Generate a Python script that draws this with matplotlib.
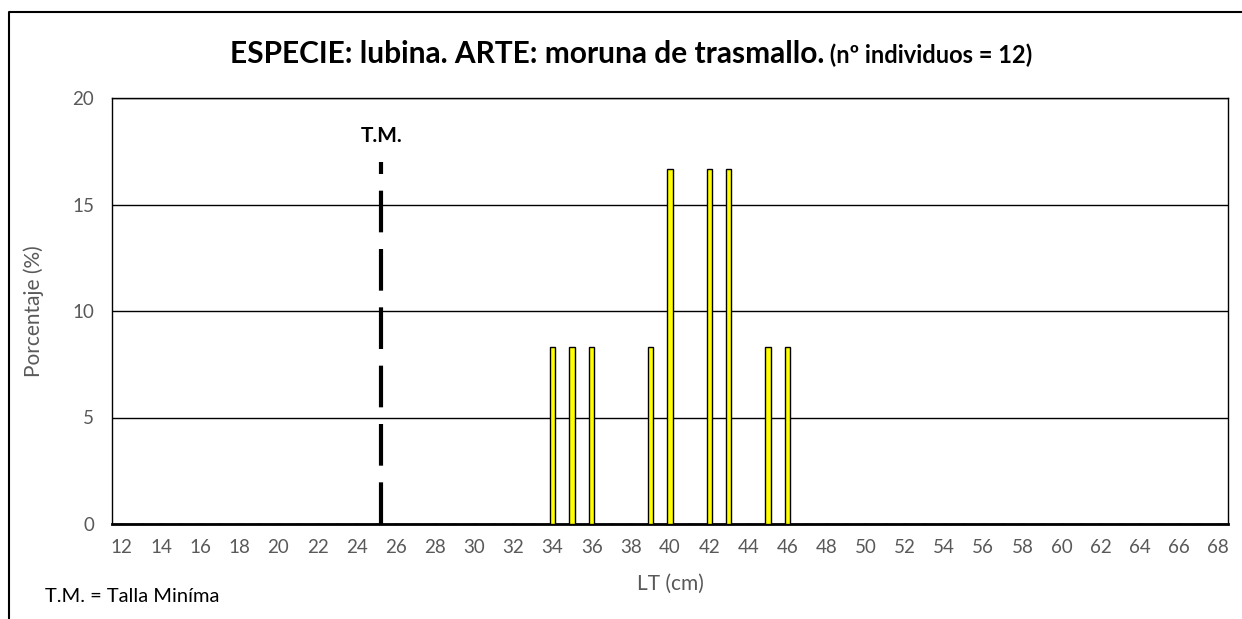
import matplotlib
matplotlib.use("Agg")
import matplotlib.pyplot as plt
from matplotlib.lines import Line2D
import numpy as np

plt.rcParams['font.family'] = ['Lato', 'DejaVu Sans']

# Data
tallas = list(range(12, 69))
conteos = {34: 1, 35: 1, 36: 1, 39: 1, 40: 2, 42: 2, 43: 2, 45: 1, 46: 1}
n_individuos = 12
porcentajes = [100.0 * conteos.get(t, 0) / n_individuos for t in tallas]
talla_minima = 25.25
tm_altura = 17
x_ticklabels = [str(t) for t in range(12, 69, 2)]
y_ticks = [0, 5, 10, 15, 20]

W, H = 1242, 619
fig = plt.figure(figsize=(W / 100, H / 100), dpi=100)
ax = fig.add_axes([112 / W, 1 - 524 / H, (1228 - 112) / W, (524 - 98) / H])

ax.bar(tallas, porcentajes, width=0.27, color='#FFFF00', edgecolor='black',
       linewidth=1.0, zorder=3)

ax.plot([talla_minima, talla_minima], [0, tm_altura], color='black', lw=3,
        dashes=(10, 4), zorder=4)
ax.text(talla_minima, 18.2, 'T.M.', ha='center', va='center', fontsize=15,
        fontweight='bold', color='black')

ax.set_xlim(tallas[0] - 0.5, tallas[-1] + 0.5)
ax.set_ylim(0, 20)
ax.set_yticks(y_ticks)
ax.set_yticklabels([str(v) for v in y_ticks])
ax.set_xticks(list(range(12, 69, 2)))
ax.set_xticklabels(x_ticklabels)
ax.tick_params(axis='both', length=0, labelsize=13.5, labelcolor='#595959')
ax.tick_params(axis='x', pad=11)
ax.tick_params(axis='y', pad=13)

ax.grid(axis='y', color='black', linewidth=1.0, zorder=0)
ax.set_axisbelow(True)
for s in ['top', 'right', 'left']:
    ax.spines[s].set_linewidth(1.0)
    ax.spines[s].set_color('black')
ax.spines['bottom'].set_linewidth(2.0)
ax.spines['bottom'].set_color('black')

ax.set_xlabel('LT (cm)', fontsize=15, color='#595959', labelpad=13)
ax.set_ylabel('Porcentaje (%)', fontsize=15, color='#595959', labelpad=20)

t1 = fig.text(0.5, 1 - 54 / H, 'ESPECIE: lubina. ARTE: moruna de trasmallo.',
              ha='right', va='center', fontsize=21.5, fontweight='bold')
t2 = fig.text(0, 1 - 55 / H, ' (nº individuos = 12)', ha='left', va='center',
              fontsize=17, fontweight='bold')

fig.canvas.draw()
r = fig.canvas.get_renderer()
bb = t1.get_window_extent(r)
bb2 = t2.get_window_extent(r)
total = bb.width + bb2.width
left = 631 - total / 2
t1.set_position(((left + bb.width) / W, 1 - 54 / H))
t2.set_position(((left + bb.width) / W, 1 - 55 / H))

fig.text(45 / W, 1 - 596 / H, 'T.M. = Talla Miníma', ha='left', va='center',
         fontsize=14.5, color='black')

border = Line2D([9 / W, 9 / W, 1.0], [0, 1 - 12 / H, 1 - 12 / H],
                transform=fig.transFigure, color='black', lw=1.5)
fig.add_artist(border)

fig.savefig('out.png', dpi=100)
